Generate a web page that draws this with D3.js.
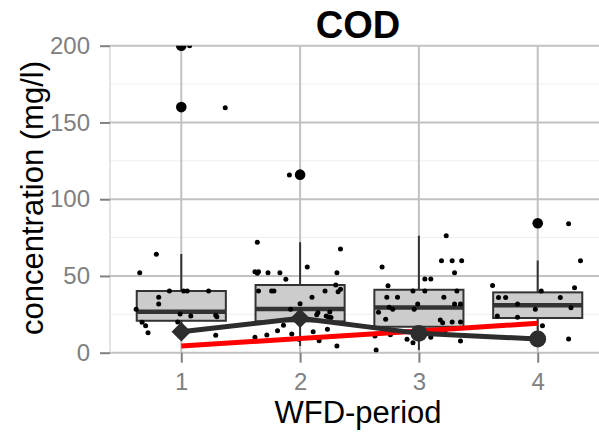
<!DOCTYPE html>
<html>
<head>
<meta charset="utf-8">
<script src="https://cdn.jsdelivr.net/npm/d3@7"></script>
<style>
  body { margin: 0; background: #fff; }
  svg { display: block; font-family: 'Liberation Sans', Arial, sans-serif; }
</style>
</head>
<body>
<div id="chart"></div>
<script>
// COD per WFD-period
const periods = ['1', '2', '3', '4'];
const yTicks = [0, 50, 100, 150, 200];
const yMinorTicks = [25, 75, 125, 175];

const boxLower = [11.3, 4.4, 1.8, 8.9];
const boxQ1 = [20.8, 20.4, 16.9, 22.6];
const boxMedian = [26.7, 28.5, 29.5, 30.9];
const boxQ3 = [40.2, 44.1, 41.0, 39.3];
const boxUpper = [64.3, 71.9, 76.2, 60.0];
const outliers = [[160, 200], [116], [], [84.3]];

const meanValues = [13.7, 22.4, 12.6, 8.9];
const trendValues = [4.3, 9.3, 14.2, 19.2];

// [jitter offset in category units, concentration]
const samples1 = [
  [-0.21, 64.1], [-0.35, 52.1], [-0.10, 40.2], [0.02, 40.2], [0.05, 40.2], [0.23, 40.2],
  [-0.19, 36.1], [-0.19, 31.7], [-0.38, 28.3], [-0.01, 25.2], [0.08, 23.9], [0.29, 24.4],
  [0.30, 23.5], [-0.33, 19.8], [-0.30, 17.6], [-0.28, 13.0], [-0.03, 20.0], [0.29, 11.3],
  [0.07, 200], [0.37, 159.6]
];
const samples2 = [
  [-0.36, 71.9], [-0.38, 52.8], [-0.36, 51.7], [-0.35, 52.8], [-0.27, 52.1], [-0.17, 52.1],
  [-0.12, 47.8], [-0.35, 40.2], [-0.24, 40.2], [-0.22, 40.2], [0.06, 55.8], [0.10, 36.1],
  [-0.08, 28.3], [0.0, 31.9], [0.15, 26.1], [0.14, 24.8], [0.25, 26.5], [0.22, 23.9],
  [0.24, 23.1], [0.26, 23.0], [0.21, 40.2], [0.31, 52.1], [0.34, 67.6], [0.30, 44.1],
  [0.32, 39.7], [0.34, 41.3], [-0.14, 17.9], [-0.19, 14.3], [-0.28, 11.5], [-0.38, 10.0],
  [-0.07, 12.2], [-0.01, 8.7], [0.11, 13.7], [0.16, 7.8], [0.23, 15.2], [0.31, 4.4],
  [-0.09, 115.8]
];
const samples3 = [
  [0.23, 76.2], [-0.31, 55.8], [0.19, 59.9], [0.28, 59.9], [0.36, 59.9], [0.30, 52.1],
  [0.05, 48.0], [0.10, 48.0], [-0.26, 43.6], [-0.05, 40.2], [0.05, 40.2], [0.32, 40.2],
  [-0.27, 36.1], [-0.18, 36.1], [0.21, 36.1], [-0.01, 31.7], [0.30, 31.7], [0.35, 31.7],
  [-0.25, 29.6], [-0.22, 28.3], [-0.04, 28.3], [-0.34, 26.3], [-0.28, 21.8], [0.18, 21.3],
  [0.20, 19.5], [0.28, 20.0], [0.35, 20.0], [-0.37, 10.9], [-0.24, 11.7], [-0.10, 8.7],
  [-0.05, 6.5], [0.10, 10.0], [-0.36, 1.8], [0.35, 7.6], [0.22, 13.0]
];
const samples4 = [
  [-0.38, 43.8], [-0.33, 36.0], [-0.27, 36.0], [-0.17, 31.7], [-0.34, 23.9], [-0.17, 23.1],
  [-0.02, 28.3], [0.03, 40.2], [0.19, 36.0], [0.31, 42.3], [0.28, 29.3], [0.36, 59.9],
  [0.26, 84.0], [0.04, 17.6], [0.26, 8.9]
];
const samples = [samples1, samples2, samples3, samples4];

const width = 599;
const height = 433;
const panel = { left: 110, right: 609, top: 45.7, bottom: 352.7 };

const svg = d3
  .select('#chart')
  .append('svg')
  .attr('width', width)
  .attr('height', height);

const x = d3
  .scalePoint()
  .domain(periods)
  .range([panel.left, panel.right])
  .padding(0.6);

const y = d3
  .scaleLinear()
  .domain([0, 200])
  .range([panel.bottom, panel.top]);

const step = x.step();
const boxW = step * 0.75;

svg
  .append('defs')
  .append('clipPath')
  .attr('id', 'panel-clip')
  .append('rect')
  .attr('x', panel.left)
  .attr('y', panel.top)
  .attr('width', panel.right - panel.left)
  .attr('height', panel.bottom - panel.top);

// grid
const grid = svg.append('g');
grid
  .selectAll('line.minor')
  .data(yMinorTicks)
  .join('line')
  .attr('class', 'minor')
  .attr('x1', panel.left)
  .attr('x2', panel.right)
  .attr('y1', (d) => y(d))
  .attr('y2', (d) => y(d))
  .attr('stroke', '#eeeeee')
  .attr('stroke-width', 1);

grid
  .selectAll('line.hmajor')
  .data(yTicks)
  .join('line')
  .attr('class', 'hmajor')
  .attr('x1', panel.left)
  .attr('x2', panel.right)
  .attr('y1', (d) => y(d))
  .attr('y2', (d) => y(d))
  .attr('stroke', '#c2c2c2')
  .attr('stroke-width', 2);

grid
  .selectAll('line.vmajor')
  .data(periods)
  .join('line')
  .attr('class', 'vmajor')
  .attr('x1', (d) => x(d))
  .attr('x2', (d) => x(d))
  .attr('y1', panel.top)
  .attr('y2', panel.bottom)
  .attr('stroke', '#c2c2c2')
  .attr('stroke-width', 2);

grid
  .append('line')
  .attr('x1', panel.left)
  .attr('x2', panel.left)
  .attr('y1', panel.top)
  .attr('y2', panel.bottom)
  .attr('stroke', '#c8c8c8')
  .attr('stroke-width', 1);

const plot = svg.append('g').attr('clip-path', 'url(#panel-clip)');

// boxplots
const boxes = plot
  .selectAll('g.box')
  .data(periods)
  .join('g')
  .attr('class', 'box');

boxes
  .append('line')
  .attr('x1', (d) => x(d))
  .attr('x2', (d) => x(d))
  .attr('y1', (d, i) => y(boxUpper[i]))
  .attr('y2', (d, i) => y(boxLower[i]))
  .attr('stroke', '#333333')
  .attr('stroke-width', 2);

boxes
  .append('rect')
  .attr('x', (d) => x(d) - boxW / 2)
  .attr('y', (d, i) => y(boxQ3[i]))
  .attr('width', boxW)
  .attr('height', (d, i) => y(boxQ1[i]) - y(boxQ3[i]))
  .attr('fill', '#cccccc')
  .attr('stroke', '#333333')
  .attr('stroke-width', 2);

boxes
  .append('line')
  .attr('x1', (d) => x(d) - boxW / 2)
  .attr('x2', (d) => x(d) + boxW / 2)
  .attr('y1', (d, i) => y(boxMedian[i]))
  .attr('y2', (d, i) => y(boxMedian[i]))
  .attr('stroke', '#333333')
  .attr('stroke-width', 4.5);

boxes
  .selectAll('circle.outlier')
  .data((d, i) => outliers[i].map((v) => ({ p: d, v })))
  .join('circle')
  .attr('class', 'outlier')
  .attr('cx', (d) => x(d.p))
  .attr('cy', (d) => y(d.v))
  .attr('r', 5.3)
  .attr('fill', '#000');

// jittered samples
const jitter = samples.flatMap((s, i) => s.map(([dx, v]) => ({ p: periods[i], dx, v })));
plot
  .selectAll('circle.sample')
  .data(jitter)
  .join('circle')
  .attr('class', 'sample')
  .attr('cx', (d) => x(d.p) + d.dx * step)
  .attr('cy', (d) => y(d.v))
  .attr('r', 2.5)
  .attr('fill', '#000');

// trend line
const line = d3
  .line()
  .x((d) => x(d.p))
  .y((d) => y(d.v));

plot
  .append('path')
  .datum(periods.map((p, i) => ({ p, v: trendValues[i] })))
  .attr('d', line)
  .attr('fill', 'none')
  .attr('stroke', '#ff0000')
  .attr('stroke-width', 5);

// mean line
const means = periods.map((p, i) => ({ p, v: meanValues[i] }));
plot
  .append('path')
  .datum(means)
  .attr('d', line)
  .attr('fill', 'none')
  .attr('stroke', '#2d2d2d')
  .attr('stroke-width', 5);

// first two markers look like rotated squares in the original
const markerShapes = [d3.symbolSquare, d3.symbolSquare, d3.symbolCircle, d3.symbolCircle];
plot
  .selectAll('path.mean')
  .data(means)
  .join('path')
  .attr('class', 'mean')
  .attr('transform', (d, i) => `translate(${x(d.p)},${y(d.v)}) rotate(${i < 2 ? 45 : 0})`)
  .attr('d', (d, i) => d3.symbol().type(markerShapes[i]).size(i < 2 ? 190 : 225)())
  .attr('fill', '#2d2d2d');

// axes
const yAxis = svg
  .append('g')
  .attr('transform', `translate(${panel.left},0)`)
  .call(d3.axisLeft(y).tickValues(yTicks).tickSize(10).tickPadding(10));

const xAxis = svg
  .append('g')
  .attr('transform', `translate(0,${panel.bottom})`)
  .call(d3.axisBottom(x).tickSize(10).tickPadding(10));

[yAxis, xAxis].forEach((g) => {
  g.select('.domain').remove();
  g.selectAll('.tick line').attr('stroke', '#808080').attr('stroke-width', 2);
  g.selectAll('.tick text')
    .attr('fill', '#808080')
    .style('font-size', '24px')
    .style('font-family', "'Liberation Sans', Arial, sans-serif");
});

svg
  .append('text')
  .attr('x', 358)
  .attr('y', 423)
  .attr('text-anchor', 'middle')
  .style('font-size', '31px')
  .text('WFD-period');

svg
  .append('text')
  .attr('transform', 'translate(42.5,198) rotate(-90)')
  .attr('text-anchor', 'middle')
  .style('font-size', '31px')
  .text('concentration (mg/l)');

svg
  .append('text')
  .attr('x', 358)
  .attr('y', 38)
  .attr('text-anchor', 'middle')
  .style('font-size', '38px')
  .style('font-weight', 'bold')
  .text('COD');
</script>
</body>
</html>
